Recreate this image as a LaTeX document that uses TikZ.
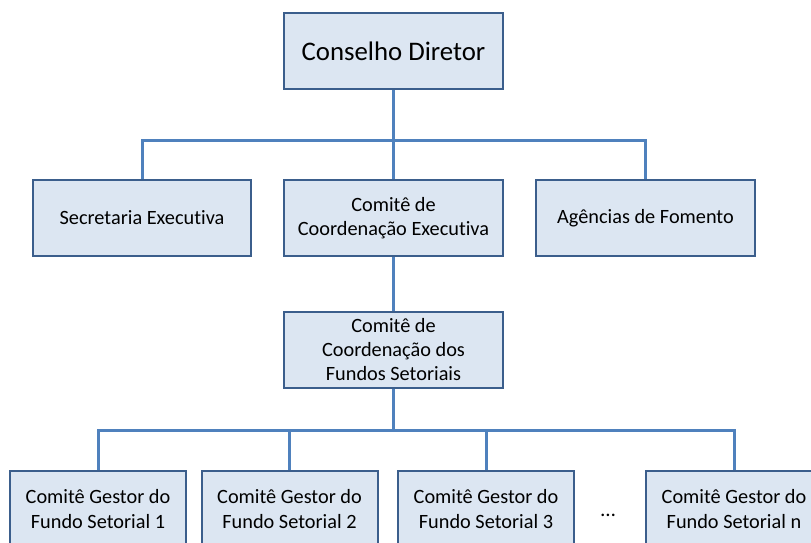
\documentclass[tikz,border=0pt]{standalone}
\usepackage{fontspec}
\setmainfont[Ligatures={NoCommon}]{Carlito}
\definecolor{boxfill}{HTML}{DCE6F2}
\definecolor{boxline}{HTML}{3B5E8C}
\definecolor{conn}{HTML}{4F81BD}
\begin{document}
\begin{tikzpicture}[x=1pt,y=-1pt,
  orgbox/.style={draw=boxline, line width=2pt, fill=boxfill, rectangle, align=center,
    minimum width=218pt, minimum height=76pt, inner sep=0pt, font=\fontsize{20.3}{24.5}\selectfont},
  gbox/.style={orgbox, minimum width=176pt},
  link/.style={draw=conn, line width=3pt}]
\useasboundingbox (0,0) rectangle (811,543);
\clip (0,0) rectangle (811,543);
\node[orgbox, minimum width=219pt, font=\fontsize{26.8}{30}\selectfont] (top) at (393.5,51) {Conselho Diretor};
\node[orgbox] (sec) at (142,218) {Secretaria Executiva};
\node[orgbox, minimum width=219pt] (cce) at (393.5,218) {Comitê de\\Coordenação Executiva};
\node[orgbox, minimum width=219pt] (age) at (645.5,218) {Agências de Fomento};
\node[orgbox, minimum width=219pt, font=\fontsize{20.3}{24}\selectfont] (cfs) at (393.5,350) {Comitê de\\Coordenação dos\\Fundos Setoriais};
\node[gbox] (g1) at (98,509) {Comitê Gestor do\\Fundo Setorial 1};
\node[gbox] (g2) at (289.5,509) {Comitê Gestor do\\Fundo Setorial 2};
\node[gbox] (g3) at (486,509) {Comitê Gestor do\\Fundo Setorial 3};
\node[gbox] (gn) at (734,509) {Comitê Gestor do\\Fundo Setorial n};
\node[font=\fontsize{21}{24}\selectfont] (dots) at (608,515) {\dots};
\coordinate (j1) at (393.5,140);
\coordinate (j2) at (393.5,430);
\draw[link] (top.south) -- (j1);
\draw[link] (sec.north) |- (j1) -| (age.north);
\draw[link] (j1) -- (cce.north);
\draw[link] (cce.south) -- (cfs.north);
\draw[link] (cfs.south) -- (j2);
\draw[link] (g1.north) |- (j2) -| (gn.north);
\draw[link] (j2) -| (g2.north);
\draw[link] (j2) -| (g3.north);
\end{tikzpicture}
\end{document}
